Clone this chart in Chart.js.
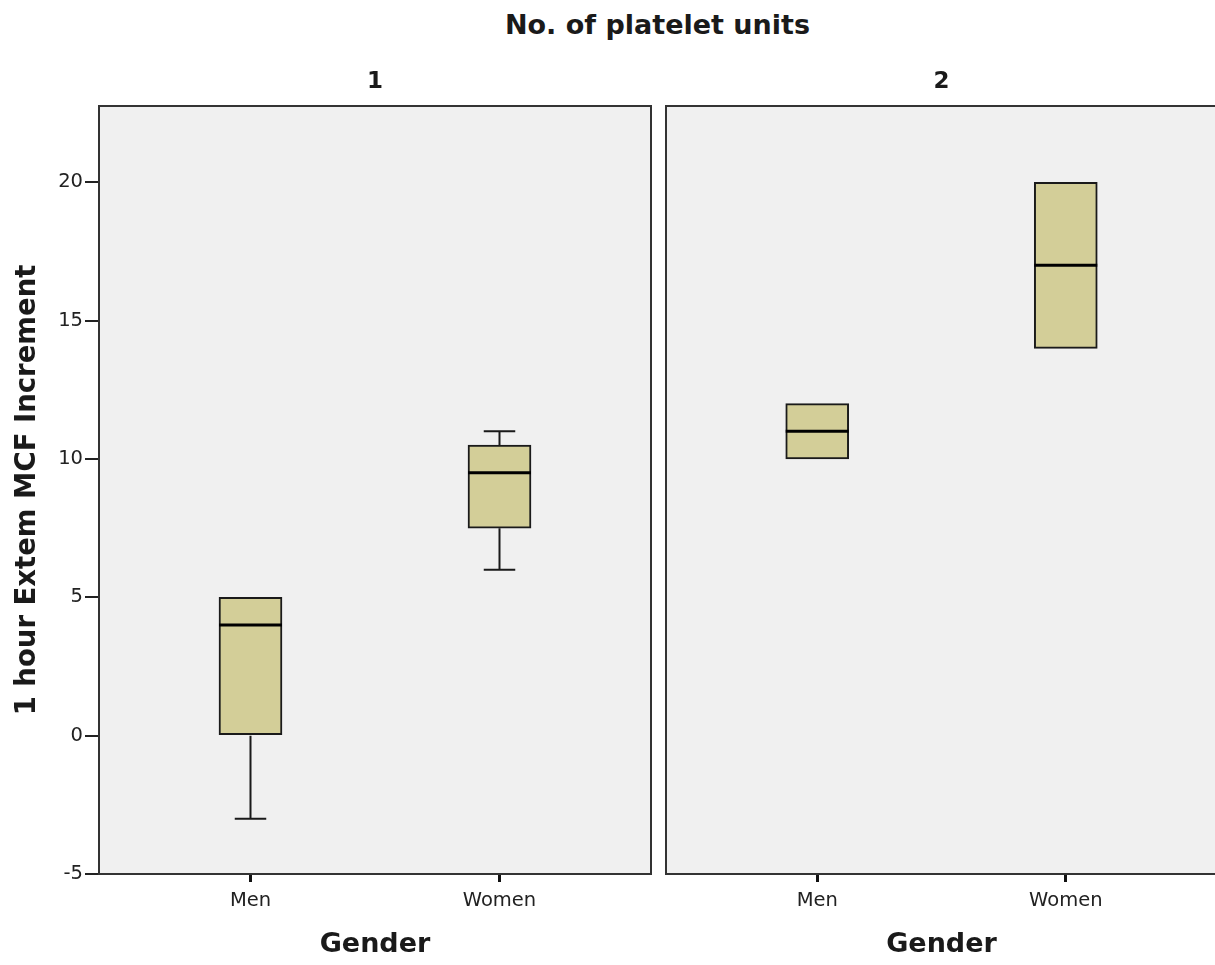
<!DOCTYPE html>
<html>
<head>
<meta charset="utf-8">
<script src="https://cdn.jsdelivr.net/npm/chart.js@4.4.1/dist/chart.umd.min.js"></script>
<style>
  html, body { margin: 0; padding: 0; background: #fff; overflow: hidden; }
  #page { position: relative; width: 1215px; height: 965px; overflow: hidden; }
  #mainTitle {
    position: absolute; left: 0; top: 9px; width: 1315px; text-align: center;
    font: bold 27px 'DejaVu Sans', sans-serif; line-height: 32px; color: #1a1a1a;
  }
  .panel { position: absolute; top: 0; }
</style>
</head>
<body>
<div id="page">
  <div id="mainTitle">No. of platelet units</div>
  <div class="panel" style="left:0px"><canvas id="panel1" width="656" height="965"></canvas></div>
  <div class="panel" style="left:655px"><canvas id="panel2" width="567" height="965"></canvas></div>
</div>
<script>
// Data
var panels = ["1", "2"];
var genders = ["Men", "Women"];
var yTicks = [-5, 0, 5, 10, 15, 20];
// per panel: [Men, Women]
var q1 = [[0, 7.5], [10, 14]];
var median = [[4, 9.5], [11, 17]];
var q3 = [[5, 10.5], [12, 20]];
var whiskerLow = [[-3, 6], [10, 14]];
var whiskerHigh = [[5, 11], [12, 20]];

Chart.defaults.font.family = "'DejaVu Sans', sans-serif";
Chart.defaults.color = "#222";

var boxColor = "#D3CE98";
var lineColor = "#1a1a1a";

// Panel background + frame
var framePlugin = {
    id: "frame",
    beforeDraw: function (chart) {
        var a = chart.chartArea, ctx = chart.ctx;
        ctx.save();
        ctx.fillStyle = "#F0F0F0";
        ctx.fillRect(a.left, a.top, a.right - a.left, a.bottom - a.top);
        ctx.restore();
    },
    afterDraw: function (chart) {
        var a = chart.chartArea, ctx = chart.ctx;
        ctx.save();
        ctx.strokeStyle = "#333";
        ctx.lineWidth = 2;
        ctx.strokeRect(a.left, a.top, a.right - a.left, a.bottom - a.top);
        ctx.restore();
    }
};

// Whiskers under the boxes, medians on top
var boxPlugin = {
    id: "boxplot",
    beforeDatasetsDraw: function (chart) {
        var p = chart.options.plugins.boxplot.panel;
        var xs = chart.scales.x, ys = chart.scales.y, ctx = chart.ctx;
        var bars = chart.getDatasetMeta(0).data;
        ctx.save();
        ctx.strokeStyle = lineColor;
        ctx.lineWidth = 2;
        genders.forEach(function (g, i) {
            var x = xs.getPixelForValue(i + 1);
            var half = bars[i].width / 4;
            [[whiskerLow[p][i], q1[p][i]], [whiskerHigh[p][i], q3[p][i]]].forEach(function (w) {
                if (w[0] === w[1]) return;
                var yEnd = ys.getPixelForValue(w[0]), yBox = ys.getPixelForValue(w[1]);
                ctx.beginPath();
                ctx.moveTo(x, yBox);
                ctx.lineTo(x, yEnd);
                ctx.moveTo(x - half, yEnd);
                ctx.lineTo(x + half, yEnd);
                ctx.stroke();
            });
        });
        ctx.restore();
    },
    afterDatasetsDraw: function (chart) {
        var p = chart.options.plugins.boxplot.panel;
        var xs = chart.scales.x, ys = chart.scales.y, ctx = chart.ctx;
        var bars = chart.getDatasetMeta(0).data;
        ctx.save();
        ctx.strokeStyle = "#000";
        ctx.lineWidth = 3;
        genders.forEach(function (g, i) {
            var x = xs.getPixelForValue(i + 1);
            var w = bars[i].width / 2;
            var y = ys.getPixelForValue(median[p][i]);
            ctx.beginPath();
            ctx.moveTo(x - w, y);
            ctx.lineTo(x + w, y);
            ctx.stroke();
        });
        ctx.restore();
    }
};

function makePanel(canvasId, p) {
    var showY = p === 0;
    var ctx = document.getElementById(canvasId).getContext("2d");
    return new Chart(ctx, {
        type: "bar",
        data: {
            datasets: [{
                data: genders.map(function (g, i) {
                    return { x: i + 1, y: [q1[p][i], q3[p][i]] };
                }),
                backgroundColor: boxColor,
                borderColor: lineColor,
                borderWidth: 2,
                borderSkipped: false,
                barThickness: 63
            }]
        },
        options: {
            responsive: false,
            animation: false,
            layout: { padding: { left: showY ? 0 : 11, right: 5, top: 0, bottom: 0 } },
            plugins: {
                legend: { display: false },
                tooltip: { enabled: false },
                title: {
                    display: true,
                    text: panels[p],
                    fullSize: false,
                    color: "#1a1a1a",
                    font: { size: 23, weight: "bold" },
                    padding: { top: 68, bottom: 10.4 }
                },
                boxplot: { panel: p }
            },
            scales: {
                x: {
                    type: "linear",
                    offset: false,
                    min: 0.3916,
                    max: 2.6084,
                    afterBuildTicks: function (s) {
                        s.ticks = genders.map(function (g, i) { return { value: i + 1 }; });
                    },
                    afterFit: function (s) { s.height = 91; },
                    ticks: {
                        callback: function (v) { return genders[v - 1]; },
                        font: { size: 19.5 },
                        padding: 7,
                        maxRotation: 0
                    },
                    grid: { offset: false, drawOnChartArea: false, tickLength: 8, lineWidth: 3, color: "#111" },
                    border: { display: false },
                    title: {
                        display: true,
                        text: "Gender",
                        color: "#1a1a1a",
                        font: { size: 27, weight: "bold" },
                        padding: { top: 0, bottom: 4 }
                    }
                },
                y: {
                    display: showY,
                    min: -5,
                    max: 22.76,
                    afterBuildTicks: function (s) {
                        s.ticks = yTicks.map(function (v) { return { value: v }; });
                    },
                    afterFit: function (s) { if (showY) s.width = 99; },
                    ticks: { font: { size: 19.5 }, padding: 2 },
                    grid: { drawOnChartArea: false, tickLength: 14, lineWidth: 2, color: "#222" },
                    border: { display: false },
                    title: {
                        display: true,
                        text: "1 hour Extem MCF Increment",
                        color: "#1a1a1a",
                        font: { size: 27.5, weight: "bold" },
                        padding: { top: 11, bottom: 0 }
                    }
                }
            }
        },
        plugins: [framePlugin, boxPlugin]
    });
}

makePanel("panel1", 0);
makePanel("panel2", 1);
</script>
</body>
</html>
